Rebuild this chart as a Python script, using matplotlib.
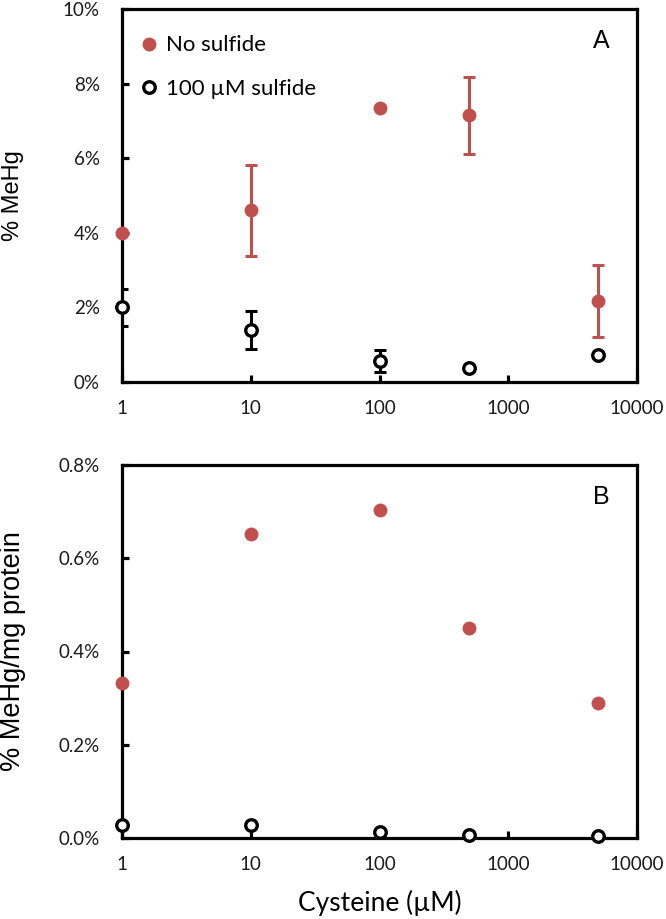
import matplotlib
matplotlib.use("Agg")
import matplotlib.pyplot as plt
from matplotlib.ticker import FixedLocator, FixedFormatter

# Data
cysteine = [1, 10, 100, 500, 5000]
mehg_no_sulfide = [4.0, 4.6, 7.35, 7.15, 2.17]
mehg_no_sulfide_err = [0.0, 1.23, 0.0, 1.04, 0.96]
mehg_sulfide = [2.0, 1.40, 0.57, 0.38, 0.72]
mehg_sulfide_err = [0.5, 0.51, 0.30, 0.0, 0.0]

prot_no_sulfide = [0.332, 0.651, 0.703, 0.450, 0.289]
prot_sulfide = [0.027, 0.027, 0.012, 0.007, 0.004]

x_ticks = [1, 10, 100, 1000, 10000]
x_tick_labels = ["1", "10", "100", "1000", "10000"]
yA_ticks = [0, 2, 4, 6, 8, 10]
yA_labels = ["0%", "2%", "4%", "6%", "8%", "10%"]
yB_ticks = [0, 0.2, 0.4, 0.6, 0.8]
yB_labels = ["0.0%", "0.2%", "0.4%", "0.6%", "0.8%"]

RED = "#C0504D"
TICKFONT = "Lato"

fig = plt.figure(figsize=(6.66, 9.19), dpi=100)
W, H = 666, 919
axA = fig.add_axes([122 / W, 1 - 382 / H, 515 / W, 373 / H])
axB = fig.add_axes([122 / W, 1 - 838 / H, 515 / W, 373 / H])


def style(ax, yticks, ylabels, ylim):
    ax.set_xscale("log")
    ax.set_xlim(1, 10000)
    ax.set_ylim(*ylim)
    ax.xaxis.set_major_locator(FixedLocator(x_ticks))
    ax.xaxis.set_major_formatter(FixedFormatter(x_tick_labels))
    ax.xaxis.set_minor_locator(FixedLocator([]))
    ax.yaxis.set_major_locator(FixedLocator(yticks))
    ax.yaxis.set_major_formatter(FixedFormatter(ylabels))
    for s in ax.spines.values():
        s.set_linewidth(2.3)
        s.set_color("black")
    ax.tick_params(axis="both", which="major", direction="in", length=5,
                   width=2.3, color="black", labelsize=13.5)
    ax.tick_params(axis="x", pad=13)
    ax.tick_params(axis="y", pad=16)
    for lab in ax.get_xticklabels() + ax.get_yticklabels():
        lab.set_fontfamily(TICKFONT)
        lab.set_color("#1a1a1a")


style(axA, yA_ticks, yA_labels, (0, 10))
style(axB, yB_ticks, yB_labels, (0, 0.8))

# Panel A
axA.errorbar(cysteine, mehg_no_sulfide, yerr=mehg_no_sulfide_err, fmt="none",
             ecolor=RED, elinewidth=2.2, capsize=4, capthick=2.2, zorder=3)
axA.errorbar(cysteine, mehg_sulfide, yerr=mehg_sulfide_err, fmt="none",
             ecolor="black", elinewidth=2.2, capsize=4, capthick=2.2, zorder=3)
axA.plot(cysteine, mehg_no_sulfide, "o", color=RED, markersize=10,
         markeredgewidth=0, clip_on=False, zorder=5, label="No sulfide")
axA.plot(cysteine, mehg_sulfide, "o", markerfacecolor="white",
         markeredgecolor="black", markersize=8.3, markeredgewidth=2.4,
         clip_on=False, zorder=5, label="100 \u00b5M sulfide")
leg = axA.legend(loc="upper left", bbox_to_anchor=(0.0084, 0.971), frameon=False,
                 handlelength=0.6, handletextpad=0.5, labelspacing=1.05,
                 borderaxespad=0.3, prop={"family": TICKFONT, "size": 16})
axA.text(0.93, 0.915, "A", transform=axA.transAxes, fontsize=18,
         fontfamily="Liberation Sans", ha="center", va="center")
axA.set_ylabel("% MeHg", fontsize=17, fontfamily="Liberation Sans")
axA.yaxis.set_label_coords((24 - 122) / 515, 0.5)

# Panel B
axB.plot(cysteine, prot_no_sulfide, "o", color=RED, markersize=10,
         markeredgewidth=0, clip_on=False, zorder=5)
axB.plot(cysteine, prot_sulfide, "o", markerfacecolor="white",
         markeredgecolor="black", markersize=8.3, markeredgewidth=2.4,
         clip_on=False, zorder=5)
axB.text(0.93, 0.915, "B", transform=axB.transAxes, fontsize=18,
         fontfamily="Liberation Sans", ha="center", va="center")
axB.set_ylabel("% MeHg/mg protein", fontsize=19.5, fontfamily="Liberation Sans")
axB.yaxis.set_label_coords((26 - 122) / 515, 0.5)
axB.set_xlabel("Cysteine (\u00b5M)", fontsize=19, fontfamily=TICKFONT)
axB.xaxis.set_label_coords(0.5, (838 - 890) / 373)

fig.savefig("out.png", dpi=100)
